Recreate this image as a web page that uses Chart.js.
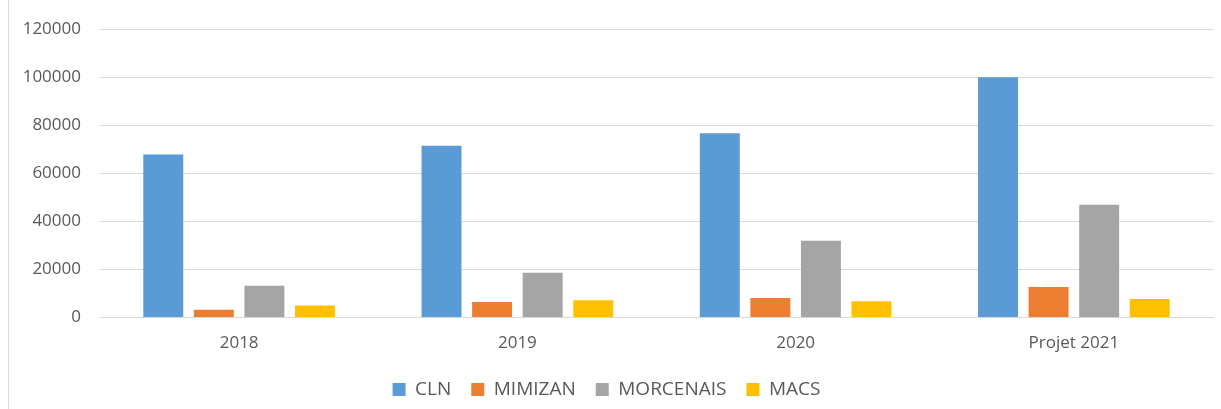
<!DOCTYPE html>
<html>
<head>
<meta charset="utf-8">
<script src="https://cdn.jsdelivr.net/npm/chart.js@4/dist/chart.umd.min.js"></script>
<style>
    html, body { margin: 0; padding: 0; background: #fff; }
    #wrap { position: relative; width: 1221px; height: 409px; }
    #edge { position: absolute; left: 8px; top: 0; bottom: 0; border-left: 1px solid #d9d9d9; }
</style>
</head>
<body>
<div id="wrap">
    <div id="edge"></div>
    <canvas id="chart" width="1221" height="409"></canvas>
</div>
<script>
// data
const categories = ['2018', '2019', '2020', 'Projet 2021'];
const clnValues = [67900, 71500, 76700, 100000];
const mimizanValues = [3300, 6500, 8200, 12700];
const morcenaisValues = [13300, 18700, 32000, 47000];
const macsValues = [5000, 7200, 6800, 7700];
const yTicks = [0, 20000, 40000, 60000, 80000, 100000, 120000];

const textColor = '#595959';
const gridColor = '#d9d9d9';

function series(label, data, color) {
    return {
        label: label,
        data: data,
        backgroundColor: color,
        borderWidth: 0,
        categoryPercentage: 0.727,
        barPercentage: 0.79
    };
}

new Chart(document.getElementById('chart'), {
    type: 'bar',
    data: {
        labels: categories,
        datasets: [
            series('CLN', clnValues, '#5B9BD5'),
            series('MIMIZAN', mimizanValues, '#ED7D31'),
            series('MORCENAIS', morcenaisValues, '#A5A5A5'),
            series('MACS', macsValues, '#FFC000')
        ]
    },
    options: {
        responsive: false,
        animation: false,
        layout: { padding: { left: 0, right: 8, top: 22, bottom: 0 } },
        plugins: {
            title: { display: false },
            tooltip: { enabled: false },
            legend: {
                position: 'bottom',
                labels: {
                    boxWidth: 13,
                    boxHeight: 13,
                    padding: 20,
                    color: textColor,
                    font: { family: 'Open Sans', size: 19 }
                }
            }
        },
        scales: {
            x: {
                grid: { display: false },
                border: { color: gridColor, width: 1 },
                ticks: {
                    color: textColor,
                    padding: 7,
                    font: { family: 'Open Sans', size: 17 }
                }
            },
            y: {
                min: 0,
                max: 120000,
                afterFit: (scale) => { scale.width = 100; },
                afterBuildTicks: (scale) => {
                    scale.ticks = yTicks.map(v => ({ value: v }));
                },
                grid: { color: gridColor, lineWidth: 1, drawTicks: false },
                border: { display: false },
                ticks: {
                    color: textColor,
                    padding: 19,
                    font: { family: 'Open Sans', size: 17 },
                    callback: (v) => String(v)
                }
            }
        }
    }
});
</script>
</body>
</html>
